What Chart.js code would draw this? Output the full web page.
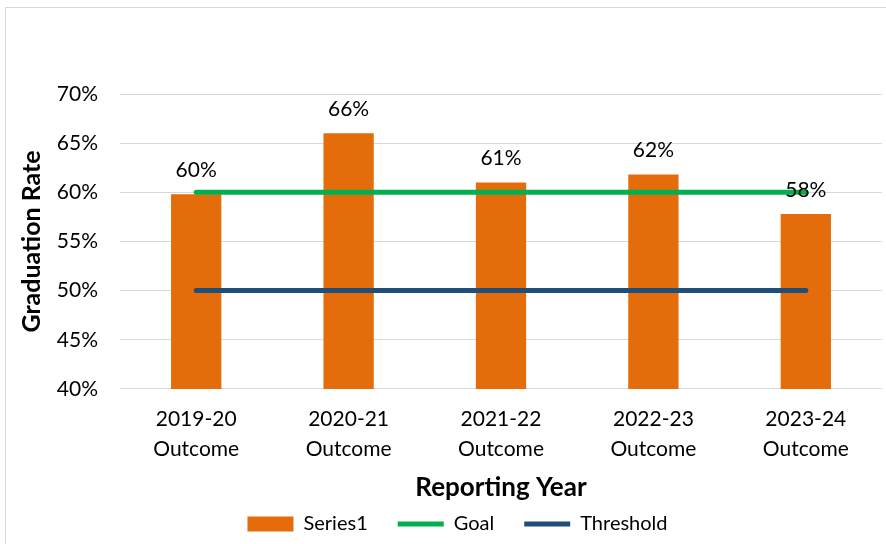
<!DOCTYPE html>
<html>
<head>
<meta charset="utf-8">
<script src="https://cdn.jsdelivr.net/npm/chart.js@4/dist/chart.umd.min.js"></script>
<style>
  html, body { margin: 0; padding: 0; background: #fff; overflow: hidden; }
  #wrap { position: relative; width: 886px; height: 544px; }
  #frame { position: absolute; left: 5px; top: 7px; width: 900px; height: 600px; border: 1px solid #d9d9d9; }
  canvas { position: absolute; left: 0; top: 0; }
</style>
</head>
<body>
<div id="wrap">
  <div id="frame"></div>
  <canvas id="chart" width="886" height="544"></canvas>
</div>
<script>
const categories = [['2019-20', 'Outcome'], ['2020-21', 'Outcome'], ['2021-22', 'Outcome'], ['2022-23', 'Outcome'], ['2023-24', 'Outcome']];
const rates = [59.8, 66.0, 61.0, 61.8, 57.8];
const goal = [60, 60, 60, 60, 60];
const threshold = [50, 50, 50, 50, 50];
const yTicks = [40, 45, 50, 55, 60, 65, 70];

const FONT = 'Lato, "Open Sans", sans-serif';

// data labels above the bars, drawn after every dataset so they sit on top of the lines
const barLabels = {
    id: 'barLabels',
    afterLayout(chart) {
        // nudge the legend a little right, like the original
        chart.legend.left += 8;
        chart.legend.right += 8;
    },
    afterDatasetsDraw(chart) {
        const ctx = chart.ctx;
        const meta = chart.getDatasetMeta(0);
        ctx.save();
        ctx.font = '21px ' + FONT;
        ctx.fillStyle = '#000';
        ctx.textAlign = 'center';
        ctx.textBaseline = 'middle';
        meta.data.forEach(function (bar, i) {
            ctx.fillText(Math.round(rates[i]) + '%', bar.x, bar.y - 24);
        });
        ctx.restore();
    }
};

var ctx = document.getElementById('chart');
var myChart = new Chart(ctx, {
    type: 'bar',
    data: {
        labels: categories,
        datasets: [{
            label: 'Series1',
            data: rates,
            backgroundColor: '#E46C0A',
            borderWidth: 0,
            barPercentage: 0.66,
            categoryPercentage: 0.5,
            pointStyle: 'rect',
            order: 2
        }, {
            type: 'line',
            label: 'Goal',
            data: goal,
            borderColor: '#00B050',
            backgroundColor: '#00B050',
            borderWidth: 5,
            borderCapStyle: 'round',
            pointRadius: 0,
            pointStyle: 'line',
            fill: false,
            order: 1
        }, {
            type: 'line',
            label: 'Threshold',
            data: threshold,
            borderColor: '#1F4E79',
            backgroundColor: '#1F4E79',
            borderWidth: 5,
            borderCapStyle: 'round',
            pointRadius: 0,
            pointStyle: 'line',
            fill: false,
            order: 1
        }]
    },
    options: {
        responsive: false,
        animation: false,
        layout: { padding: { top: 94, left: 17, right: 4, bottom: 0 } },
        plugins: {
            tooltip: { enabled: false },
            legend: {
                position: 'bottom',
                labels: {
                    usePointStyle: true,
                    pointStyleWidth: 46,
                    boxHeight: 15,
                    padding: 30,
                    color: '#000',
                    font: { family: FONT, size: 20 },
                    sort: function (a, b) { return a.datasetIndex - b.datasetIndex; }
                }
            }
        },
        scales: {
            x: {
                grid: { display: false },
                border: { display: false },
                ticks: { color: '#000', font: { family: FONT, size: 21, lineHeight: 1.45 }, maxRotation: 0, padding: 7 },
                title: { display: true, text: 'Reporting Year', color: '#000', font: { family: FONT, size: 26, weight: 'bold' }, padding: { top: 0, bottom: -19 } }
            },
            y: {
                min: yTicks[0],
                max: yTicks[yTicks.length - 1],
                afterBuildTicks: function (scale) {
                    scale.ticks = yTicks.map(function (v) { return { value: v }; });
                },
                afterFit: function (scale) { scale.width = 103; },
                grid: { color: '#d9d9d9', lineWidth: 1, drawTicks: false },
                border: { display: false },
                ticks: {
                    color: '#000',
                    font: { family: FONT, size: 21 },
                    padding: 22,
                    callback: function (v) { return v + '%'; }
                },
                title: { display: true, text: 'Graduation Rate', color: '#000', font: { family: FONT, size: 25, weight: 'bold' }, padding: 0 }
            }
        }
    },
    plugins: [barLabels]
});
</script>
</body>
</html>
